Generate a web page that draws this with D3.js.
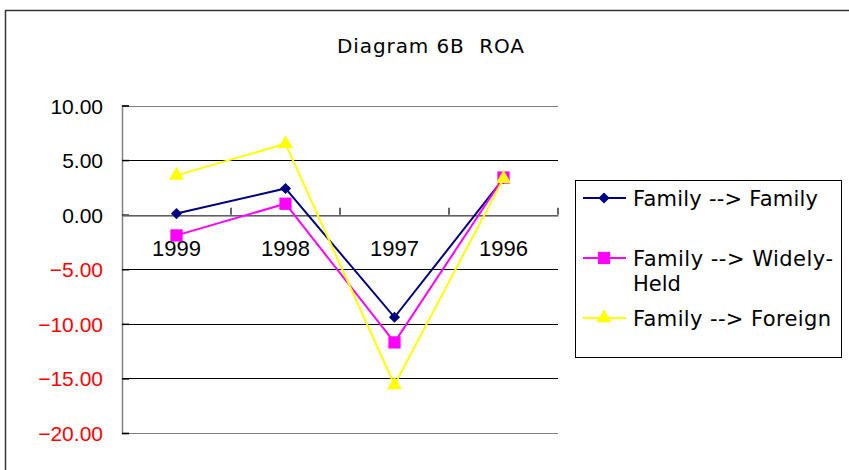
<!DOCTYPE html>
<html>
<head>
<meta charset="utf-8">
<script src="https://cdn.jsdelivr.net/npm/d3@7"></script>
<style>
  body { margin: 0; background: #fff; }
  text { font-family: "Liberation Sans", Arial, sans-serif; }
  text.wide { font-family: "DejaVu Sans", sans-serif; }
</style>
</head>
<body>
<script>
// data
const years = ["1999", "1998", "1997", "1996"];
const famFamily = [0.1, 2.4, -9.4, 3.3];
const famWidely = [-1.9, 1.0, -11.7, 3.4];
const famForeign = [3.6, 6.5, -15.6, 3.3];
const yTicks = [10, 5, 0, -5, -10, -15, -20];

const series = [
    { name: ["Family --> Family"], len: [185], values: famFamily, color: "#000080", symbol: d3.symbolSquare, size: 62, rot: 45 },
    { name: ["Family --> Widely-", "Held"], len: [200, null], values: famWidely, color: "#ff00ff", symbol: d3.symbolSquare, size: 150, rot: 0 },
    { name: ["Family --> Foreign"], len: [198], values: famForeign, color: "#ffff00", symbol: d3.symbolTriangle, size: 95, rot: 0 }
];

const W = 849, H = 470;
const plot = { left: 122, right: 558, top: 105.5, bottom: 433 };

const svg = d3.select("body").append("svg")
    .attr("width", W)
    .attr("height", H);

// outer chart frame
svg.append("rect")
    .attr("x", 5.5).attr("y", 10.5)
    .attr("width", W + 10).attr("height", H + 10)
    .attr("fill", "#fff")
    .attr("stroke", "#333")
    .attr("stroke-width", 1.5);

svg.append("text")
    .attr("class", "wide")
    .attr("x", 337).attr("y", 53)
    .style("font-size", "20px")
    .attr("textLength", 187)
    .attr("lengthAdjust", "spacing")
    .attr("xml:space", "preserve")
    .text("Diagram 6B  ROA");

const x = d3.scaleBand().domain(years).range([plot.left, plot.right]);
const y = d3.scaleLinear().domain([-20, 10]).range([plot.bottom, plot.top]);

const g = svg.append("g");

// horizontal gridlines
g.selectAll(".grid")
    .data(yTicks)
    .enter().append("line")
    .attr("x1", plot.left).attr("x2", plot.right)
    .attr("y1", d => Math.round(y(d)) + 0.5)
    .attr("y2", d => Math.round(y(d)) + 0.5)
    .attr("stroke", d => (d === 10 || d === -20) ? "#808080" : "#000")
    .attr("stroke-width", 1);

// value axis
const yAxis = g.append("g")
    .attr("transform", "translate(" + plot.left + ",0)")
    .call(d3.axisRight(y).tickValues(yTicks).tickSize(7).tickFormat(""));
yAxis.select(".domain").attr("stroke", "#808080").attr("stroke-width", 1.5);
yAxis.selectAll(".tick line").attr("stroke", "#000").attr("stroke-width", 1.5);

g.selectAll(".ylab")
    .data(yTicks)
    .enter().append("text")
    .attr("x", 103)
    .attr("y", d => y(d) + 8)
    .attr("text-anchor", "end")
    .style("font-size", "21px")
    .attr("fill", d => d < 0 ? "#ff0000" : "#000")
    .text(d => d3.format(".2f")(d).replace("-", "\u2212"));

// category axis at zero
const xAxis = g.append("g")
    .attr("transform", "translate(0," + (Math.round(y(0)) + 0.5) + ")")
    .call(d3.axisTop(x).tickSize(0).tickFormat(""));
xAxis.select(".domain").attr("stroke", "#808080").attr("stroke-width", 1.5);
g.selectAll(".xtick")
    .data(years)
    .enter().append("line")
    .attr("x1", d => x(d) + x.bandwidth())
    .attr("x2", d => x(d) + x.bandwidth())
    .attr("y1", y(0) - 7).attr("y2", y(0))
    .attr("stroke", "#000").attr("stroke-width", 1.2);

g.selectAll(".xlab")
    .data(years)
    .enter().append("text")
    .attr("x", d => x(d) + x.bandwidth() / 2)
    .attr("y", y(0) + 41)
    .attr("text-anchor", "middle")
    .style("font-size", "22px")
    .text(d => d);

// lines and markers
const line = d3.line()
    .x((d, i) => x(years[i]) + x.bandwidth() / 2)
    .y(d => y(d));

series.forEach(s => {
    g.append("path")
        .datum(s.values)
        .attr("d", line)
        .attr("fill", "none")
        .attr("stroke", s.color)
        .attr("stroke-width", 2);
    g.selectAll(null)
        .data(s.values)
        .enter().append("path")
        .attr("transform", (d, i) => "translate(" + (x(years[i]) + x.bandwidth() / 2) + "," + y(d) + ") rotate(" + s.rot + ")")
        .attr("d", d3.symbol().type(s.symbol).size(s.size))
        .attr("fill", s.color);
});

// legend
const legend = svg.append("g");
legend.append("rect")
    .attr("x", 575.5).attr("y", 180.5)
    .attr("width", 266).attr("height", 177)
    .attr("fill", "#fff")
    .attr("stroke", "#000");

const legendY = [198, 258, 318];
series.forEach((s, i) => {
    const ly = legendY[i];
    legend.append("line")
        .attr("x1", 583).attr("x2", 626)
        .attr("y1", ly).attr("y2", ly)
        .attr("stroke", s.color).attr("stroke-width", 2);
    legend.append("path")
        .attr("transform", "translate(604," + ly + ") rotate(" + s.rot + ")")
        .attr("d", d3.symbol().type(s.symbol).size(s.size))
        .attr("fill", s.color);
    s.name.forEach((t, j) => {
        const tx = legend.append("text")
            .attr("class", "wide")
            .attr("x", 633).attr("y", ly + 8 + j * 25)
            .style("font-size", "21px")
            .text(t);
        if (s.len[j]) tx.attr("textLength", s.len[j]).attr("lengthAdjust", "spacing");
    });
});
</script>
</body>
</html>
